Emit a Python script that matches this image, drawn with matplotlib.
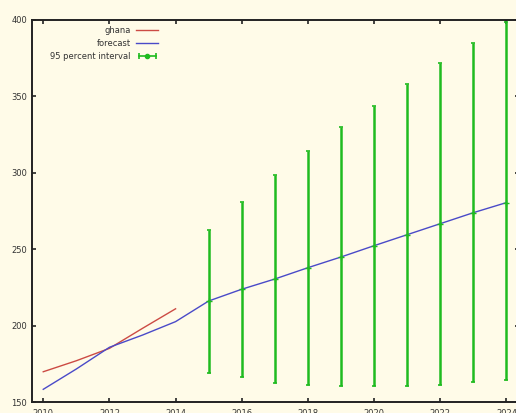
import matplotlib.pyplot as plt
from matplotlib.lines import Line2D
from matplotlib.legend_handler import HandlerLine2D, HandlerTuple

hist_years = [2010, 2011, 2012, 2013, 2014]
ghana = [169.8, 177.0, 185.1, 198.2, 211.0]

fc_years = list(range(2010, 2025))
forecast = [158.3, 171.6, 185.8, 193.8, 202.6, 216.1, 223.8, 230.5, 237.9,
            244.9, 252.3, 259.5, 266.7, 273.9, 280.5]

ci_years = list(range(2015, 2025))
ci_low = [168.8, 166.6, 162.7, 161.1, 160.5, 160.5, 160.5, 161.0, 163.0, 164.4]
ci_high = [262.6, 280.7, 298.6, 314.3, 329.8, 344.0, 358.1, 371.6, 385.0, 398.6]

xticks = list(range(2010, 2026, 2))
yticks = [150, 200, 250, 300, 350, 400]

bg = '#fffbe8'
green = '#1fbb1f'
fig = plt.figure(figsize=(5.16, 4.13), dpi=100, facecolor=bg)
ax = fig.add_axes([32 / 516, 11 / 413, 487 / 516, 382 / 413], facecolor=bg)

l1, = ax.plot(hist_years, ghana, color='#cc4b44', lw=1.0)
l2, = ax.plot(fc_years, forecast, color='#4a4ac8', lw=1.0)

ci_mid = forecast[-len(ci_years):]
err = [[m - lo for m, lo in zip(ci_mid, ci_low)],
       [hi - m for m, hi in zip(ci_mid, ci_high)]]
ax.errorbar(ci_years, ci_mid, yerr=err, fmt='+', color=green, ms=4,
            elinewidth=1.8, capsize=1.5, capthick=1.2)

# legend sample for the interval: horizontal bar, end caps, centre mark
cap_line = Line2D([], [], color=green, lw=1.2, marker='|', ms=4, mew=1.2)
dot_line = Line2D([], [], color=green, ls='none', marker='o', ms=3)
hmap = {cap_line: HandlerLine2D(numpoints=2),
        dot_line: HandlerLine2D(numpoints=1),
        tuple: HandlerTuple(ndivide=1, pad=0)}

ax.set_xlim(2009.66, 2024.38)
ax.set_ylim(150, 400)
ax.set_xticks(xticks)
ax.set_yticks(yticks)
ax.tick_params(direction='in', length=3, width=1.2, top=True, right=True,
               labelsize=6, colors='#222222', labelcolor='#333333')
ax.tick_params(axis='x', pad=5)
for s in ax.spines.values():
    s.set_linewidth(1.4)
    s.set_color('#222222')

leg = ax.legend([l1, l2, (cap_line, dot_line)],
                ['ghana', 'forecast', '95 percent interval'],
                handler_map=hmap, loc='upper left',
                bbox_to_anchor=(0.025, 1.0), frameon=False,
                markerfirst=False, fontsize=6, handlelength=2.6,
                handletextpad=0.7, labelspacing=0.5, borderaxespad=0.3)
for t in leg.get_texts():
    t.set_color('#333333')

fig.savefig('out.png', dpi=100, facecolor=bg)
